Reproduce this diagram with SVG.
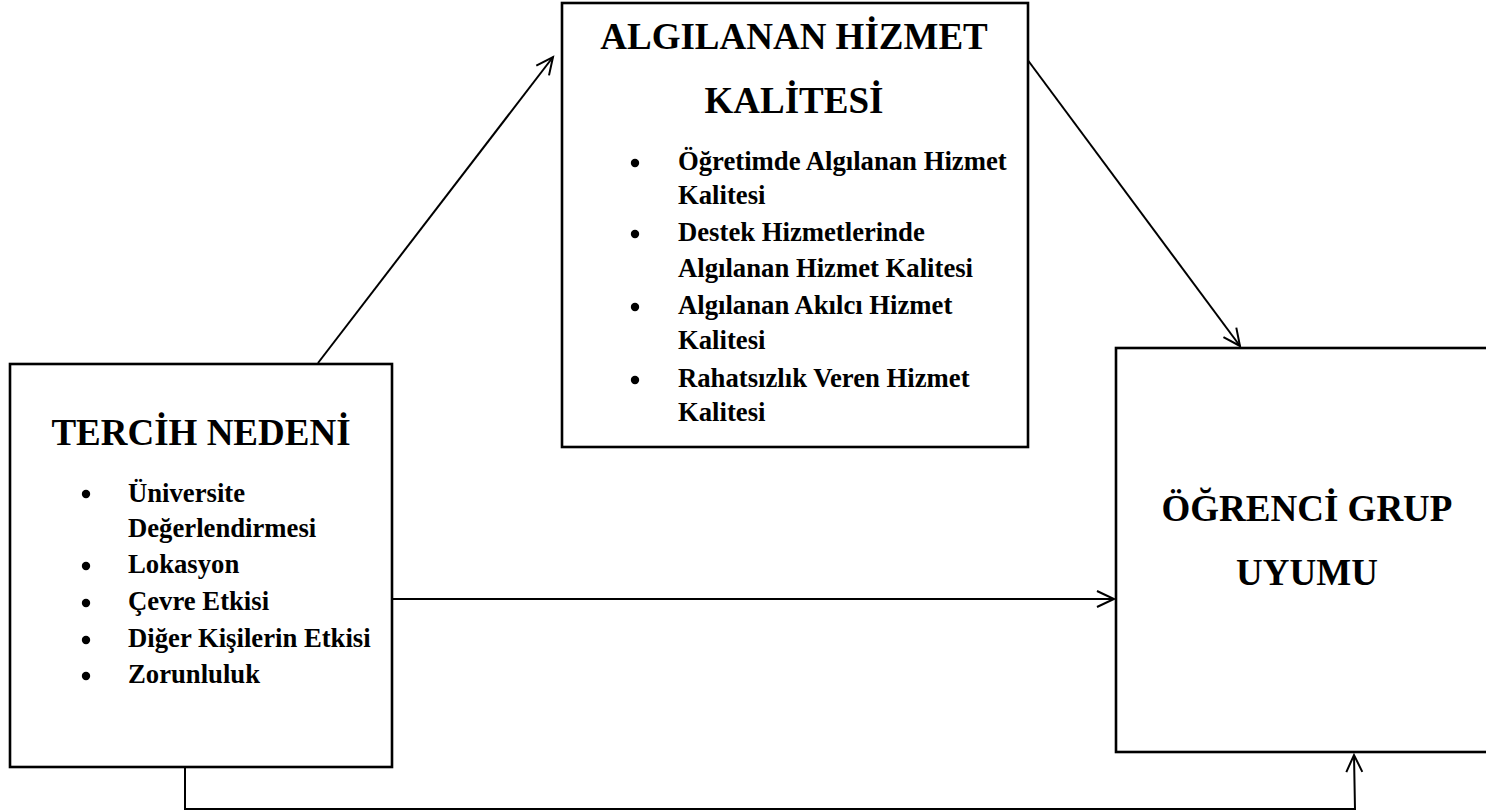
<svg xmlns="http://www.w3.org/2000/svg" width="1486" height="812" viewBox="0 0 1486 812">
  <style>
    .box { fill: #fff; stroke: #000; stroke-width: 2.6; }
    .title { font-family: "Liberation Serif", "Times New Roman", serif; font-weight: bold; font-size: 37px; fill: #000; text-anchor: middle; }
    .item { font-family: "Liberation Serif", "Times New Roman", serif; font-weight: bold; font-size: 26.7px; fill: #000; }
    .dot { fill: #000; }
    .edge { fill: none; stroke: #000; stroke-width: 2; }
  </style>
  <defs>
    <marker id="arrow" viewBox="0 0 24 24" refX="21" refY="12" markerWidth="24" markerHeight="24" markerUnits="userSpaceOnUse" orient="auto">
      <path d="M4,4 L21,12 L4,20" fill="none" stroke="#000" stroke-width="2"/>
    </marker>
  </defs>
  <rect width="1486" height="812" fill="#fff"/>

  <!-- connectors -->
  <g id="connectors">
    <line class="edge" x1="318" y1="363" x2="553" y2="57" marker-end="url(#arrow)"/>
    <line class="edge" x1="1024" y1="55" x2="1240" y2="346" marker-end="url(#arrow)"/>
    <line class="edge" x1="392" y1="599" x2="1114" y2="599" marker-end="url(#arrow)"/>
    <polyline class="edge" points="185,767 185,809 1355,809 1354,755" marker-end="url(#arrow)"/>
  </g>

  <!-- TERCİH NEDENİ -->
  <g id="tercih-nedeni">
    <rect class="box" x="10" y="364" width="382" height="403"/>
    <text class="title" x="201" y="445">TERCİH NEDENİ</text>
    <circle class="dot" cx="86" cy="494" r="4.2"/>
    <text class="item" x="128" y="502">Üniversite</text>
    <text class="item" x="128" y="537">Değerlendirmesi</text>
    <circle class="dot" cx="86" cy="566" r="4.2"/>
    <text class="item" x="128" y="573">Lokasyon</text>
    <circle class="dot" cx="86" cy="603" r="4.2"/>
    <text class="item" x="128" y="610">Çevre Etkisi</text>
    <circle class="dot" cx="86" cy="640" r="4.2"/>
    <text class="item" x="128" y="647">Diğer Kişilerin Etkisi</text>
    <circle class="dot" cx="86" cy="676" r="4.2"/>
    <text class="item" x="128" y="683">Zorunluluk</text>
  </g>

  <!-- ALGILANAN HİZMET KALİTESİ -->
  <g id="algilanan-hizmet-kalitesi">
    <rect class="box" x="562" y="3" width="466" height="444"/>
    <text class="title" x="794" y="49">ALGILANAN HİZMET</text>
    <text class="title" x="794" y="113">KALİTESİ</text>
    <circle class="dot" cx="635" cy="163" r="4.2"/>
    <text class="item" x="678" y="170">Öğretimde Algılanan Hizmet</text>
    <text class="item" x="678" y="204">Kalitesi</text>
    <circle class="dot" cx="635" cy="234" r="4.2"/>
    <text class="item" x="678" y="241">Destek Hizmetlerinde</text>
    <text class="item" x="678" y="277">Algılanan Hizmet Kalitesi</text>
    <circle class="dot" cx="635" cy="307" r="4.2"/>
    <text class="item" x="678" y="314">Algılanan Akılcı Hizmet</text>
    <text class="item" x="678" y="349">Kalitesi</text>
    <circle class="dot" cx="635" cy="380" r="4.2"/>
    <text class="item" x="678" y="387">Rahatsızlık Veren Hizmet</text>
    <text class="item" x="678" y="421">Kalitesi</text>
  </g>

  <!-- ÖĞRENCİ GRUP UYUMU -->
  <g id="ogrenci-grup-uyumu">
    <rect class="box" x="1116" y="348" width="380" height="404"/>
    <text class="title" x="1307" y="521">ÖĞRENCİ GRUP</text>
    <text class="title" x="1307" y="585">UYUMU</text>
  </g>
</svg>
